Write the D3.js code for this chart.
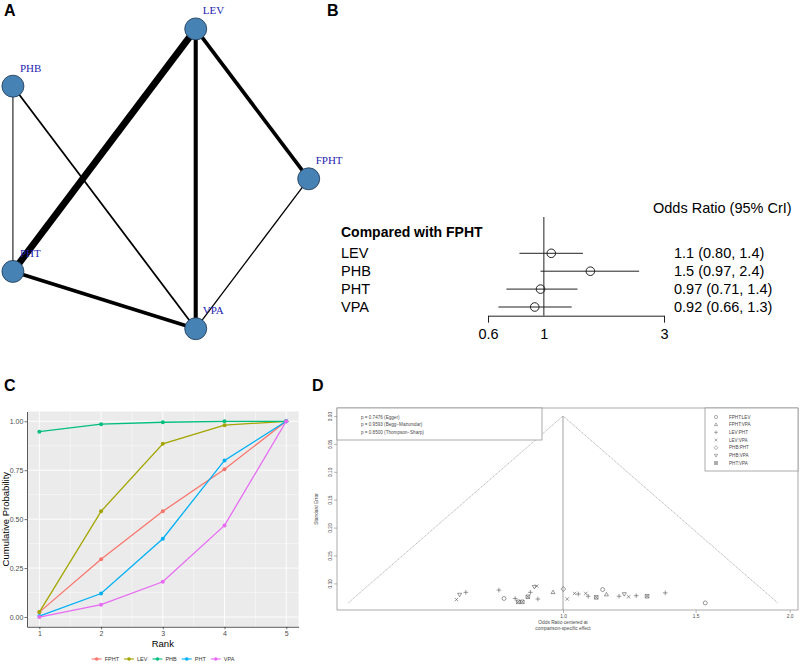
<!DOCTYPE html>
<html><head><meta charset="utf-8">
<script src="https://cdn.jsdelivr.net/npm/d3@7"></script>
<style>body{margin:0;background:#fff;} svg{display:block;}</style>
</head><body>
<svg id="chart" width="800" height="665"></svg>
<script>
// ===== DATA =====
// Panel A: network
const netNodes = ["FPHT", "LEV", "PHB", "PHT", "VPA"];
const edgeFrom = ["LEV", "LEV", "LEV", "PHT", "PHB", "FPHT", "PHB"];
const edgeTo   = ["PHT", "VPA", "FPHT", "VPA", "VPA", "VPA", "PHT"];
const edgeWeight = [7, 4.2, 3.8, 3.8, 1.8, 1.3, 1];

// Panel B: forest plot
const forestTitle = "Compared with FPHT";
const forestHeader = "Odds Ratio (95% CrI)";
const forestTreat = ["LEV", "PHB", "PHT", "VPA"];
const forestEst = [1.07, 1.53, 0.97, 0.92];
const forestLo  = [0.80, 0.97, 0.71, 0.66];
const forestHi  = [1.43, 2.39, 1.36, 1.29];
const forestText = ["1.1 (0.80, 1.4)", "1.5 (0.97, 2.4)", "0.97 (0.71, 1.4)", "0.92 (0.66, 1.3)"];
const forestTicks = [0.6, 1, 3];

// Panel C: cumulative ranking
const ranks = [1, 2, 3, 4, 5];
const rankTreat = ["FPHT", "LEV", "PHB", "PHT", "VPA"];
const cumFPHT = [0.025, 0.295, 0.54, 0.755, 1.0];
const cumLEV  = [0.025, 0.54, 0.885, 0.98, 1.0];
const cumPHB  = [0.947, 0.985, 0.995, 1.0, 1.0];
const cumPHT  = [0.005, 0.12, 0.40, 0.80, 1.0];
const cumVPA  = [0.0, 0.063, 0.18, 0.468, 1.0];
const rankColors = ["#F8766D", "#A3A500", "#00BF7D", "#00B0F6", "#E76BF3"];
const cumTicks = [0, 0.25, 0.5, 0.75, 1];

// Panel D: comparison-adjusted funnel plot
const funnelPairs = ["FPHT:LEV", "FPHT:VPA", "LEV:PHT", "LEV:VPA", "PHB:PHT", "PHB:VPA", "PHT:VPA"];
const funnelOR = [0.722, 0.729, 0.743, 0.822, 0.835, 0.864, 0.872, 0.883, 0.898, 0.905,
                  0.916, 0.923, 0.926, 0.970, 1.001, 1.013, 1.036, 1.048, 1.072, 1.080,
                  1.107, 1.129, 1.142, 1.187, 1.206, 1.222, 1.251, 1.293, 1.367, 1.545];
const funnelSE = [0.329, 0.320, 0.316, 0.312, 0.327, 0.327, 0.333, 0.333, 0.324, 0.316,
                  0.306, 0.305, 0.328, 0.316, 0.310, 0.328, 0.318, 0.319, 0.318, 0.323,
                  0.325, 0.311, 0.320, 0.323, 0.319, 0.324, 0.322, 0.323, 0.317, 0.335];
const funnelPair = [3, 5, 2, 2, 0, 2, 6, 6, 6, 2,
                    5, 3, 2, 1, 4, 3, 3, 2, 3, 2,
                    6, 0, 1, 2, 5, 3, 2, 6, 2, 0];
const pvalText = ["p = 0.7476 (Egger)", "p = 0.9593 (Begg\u2212Mazumdar)", "p = 0.8500 (Thompson\u2212Sharp)"];
const funnelXTicks = [1.0, 1.5, 2.0];
const funnelYTicks = [0, 0.05, 0.10, 0.15, 0.20, 0.25, 0.30];

// ===== DRAW =====
const svg = d3.select("#chart");
const SANS = "'Liberation Sans', Arial, Helvetica, sans-serif";
const SERIF = "'Liberation Serif', 'Times New Roman', serif";

// panel letters
[["A", 4, 16], ["B", 327, 16], ["C", 4, 391], ["D", 312, 391]].forEach(d => {
  svg.append("text").attr("x", d[1]).attr("y", d[2]).text(d[0])
    .attr("font-family", SANS).attr("font-weight", "bold").attr("font-size", 16).attr("fill", "#000");
});

// ---------- Panel A ----------
(function () {
  const g = svg.append("g");
  const ex = d3.scaleLinear().domain([-1, 1]).range([145.2 - 163.5, 145.2 + 163.5]);
  const ey = d3.scaleLinear().domain([-1, 1]).range([178.8 + 157.6, 178.8 - 157.6]);
  const ang = d3.scaleLinear().domain([0, netNodes.length]).range([0, 2 * Math.PI]);
  const pos = {};
  netNodes.forEach((n, i) => { pos[n] = [ex(Math.cos(ang(i))), ey(Math.sin(ang(i)))]; });
  const wScale = d3.scaleLinear().domain([1, 7]).range([1, 6.8]);
  edgeFrom.forEach((f, i) => {
    g.append("line")
      .attr("x1", pos[f][0]).attr("y1", pos[f][1])
      .attr("x2", pos[edgeTo[i]][0]).attr("y2", pos[edgeTo[i]][1])
      .attr("stroke", "#000").attr("stroke-width", wScale(edgeWeight[i]));
  });
  netNodes.forEach(n => {
    g.append("circle").attr("cx", pos[n][0]).attr("cy", pos[n][1]).attr("r", 11)
      .attr("fill", "#4682B4").attr("stroke", "#1d3550").attr("stroke-width", 0.8);
    g.append("text").attr("x", pos[n][0] + 7).attr("y", pos[n][1] - 14.5).text(n)
      .attr("font-family", SERIF).attr("font-size", 11).attr("fill", "#2424b0");
  });
})();

// ---------- Panel B ----------
(function () {
  const g = svg.append("g").attr("font-family", SANS).attr("fill", "#000");
  const x = d3.scaleLog().domain([0.6, 3]).range([488, 664]);
  const rowY = d3.scaleLinear().domain([0, 1]).range([253.3, 271.2]);
  g.append("text").attr("x", 653).attr("y", 213).text(forestHeader).attr("font-size", 14.5);
  g.append("text").attr("x", 341).attr("y", 237).text(forestTitle)
    .attr("font-size", 14).attr("font-weight", "bold");
  // reference line
  g.append("line").attr("x1", x(1)).attr("x2", x(1)).attr("y1", 217).attr("y2", 315.7)
    .attr("stroke", "#222").attr("stroke-width", 1);
  forestTreat.forEach((t, i) => {
    const cy = rowY(i);
    g.append("text").attr("x", 341).attr("y", cy + 5).text(t).attr("font-size", 14.5);
    g.append("line").attr("x1", x(forestLo[i])).attr("x2", x(forestHi[i]))
      .attr("y1", cy).attr("y2", cy).attr("stroke", "#222").attr("stroke-width", 1);
    g.append("circle").attr("cx", x(forestEst[i])).attr("cy", cy).attr("r", 4.3)
      .attr("fill", "none").attr("stroke", "#222").attr("stroke-width", 1);
    g.append("text").attr("x", 674).attr("y", cy + 5).text(forestText[i]).attr("font-size", 14.5);
  });
  const axis = d3.axisBottom(x).tickValues(forestTicks).tickFormat(d3.format("")).tickSize(7).tickSizeOuter(0);
  const ag = g.append("g").attr("transform", "translate(0,315.7)").call(axis);
  ag.select(".domain").attr("stroke", "#222");
  ag.selectAll(".tick line").attr("stroke", "#222");
  ag.selectAll(".tick").filter(d => d === 1).select("line").remove();
  ag.selectAll(".tick text").attr("font-size", 14.5).attr("font-family", SANS).attr("fill", "#000")
    .attr("y", 23).attr("dy", 0);
})();

// ---------- Panel C ----------
(function () {
  const g = svg.append("g");
  const x = d3.scaleLinear().domain([0.8, 5.2]).range([27, 298.6]);
  const y = d3.scaleLinear().domain([-0.05, 1.05]).range([626.8, 411.5]);
  g.append("rect").attr("x", x(0.8)).attr("y", y(1.05)).attr("width", x(5.2) - x(0.8))
    .attr("height", y(-0.05) - y(1.05)).attr("fill", "#EBEBEB");
  const minorX = [1.5, 2.5, 3.5, 4.5], minorY = [0.125, 0.375, 0.625, 0.875];
  minorX.forEach(v => g.append("line").attr("x1", x(v)).attr("x2", x(v)).attr("y1", y(1.05)).attr("y2", y(-0.05)).attr("stroke", "#fff").attr("stroke-width", 0.45));
  minorY.forEach(v => g.append("line").attr("y1", y(v)).attr("y2", y(v)).attr("x1", x(0.8)).attr("x2", x(5.2)).attr("stroke", "#fff").attr("stroke-width", 0.45));
  ranks.forEach(v => g.append("line").attr("x1", x(v)).attr("x2", x(v)).attr("y1", y(1.05)).attr("y2", y(-0.05)).attr("stroke", "#fff").attr("stroke-width", 0.9));
  cumTicks.forEach(v => g.append("line").attr("y1", y(v)).attr("y2", y(v)).attr("x1", x(0.8)).attr("x2", x(5.2)).attr("stroke", "#fff").attr("stroke-width", 0.9));

  const series = [cumFPHT, cumLEV, cumPHB, cumPHT, cumVPA];
  const line = d3.line().x((d, i) => x(ranks[i])).y(d => y(d));
  series.forEach((s, k) => {
    g.append("path").attr("d", line(s)).attr("fill", "none").attr("stroke", rankColors[k]).attr("stroke-width", 1.3);
    s.forEach((v, i) => g.append("circle").attr("cx", x(ranks[i])).attr("cy", y(v)).attr("r", 2).attr("fill", rankColors[k]));
  });
  // axes
  const ax = g.append("g").attr("transform", `translate(0,${y(-0.05)})`)
    .call(d3.axisBottom(x).tickValues(ranks).tickFormat(d3.format("d")).tickSize(2.5).tickSizeOuter(0));
  const ay = g.append("g").attr("transform", `translate(${x(0.8)},0)`)
    .call(d3.axisLeft(y).tickValues(cumTicks).tickFormat(d3.format(".2f")).tickSize(2.5).tickSizeOuter(0));
  [ax, ay].forEach(a => {
    a.select(".domain").attr("stroke", "#333").attr("stroke-width", 0.8);
    a.selectAll(".tick line").attr("stroke", "#333").attr("stroke-width", 0.7);
    a.selectAll(".tick text").attr("font-family", SANS).attr("font-size", 7).attr("fill", "#4D4D4D");
  });
  ax.selectAll(".tick text").attr("y", 4);
  ay.selectAll(".tick text").attr("x", -3.7);
  g.append("text").attr("x", (x(0.8) + x(5.2)) / 2).attr("y", 646.5).attr("text-anchor", "middle")
    .attr("font-family", SANS).attr("font-size", 9.5).text("Rank");
  g.append("text").attr("transform", `translate(8.5,${(y(-0.05) + y(1.05)) / 2}) rotate(-90)`)
    .attr("text-anchor", "middle").attr("font-family", SANS).attr("font-size", 9.5).text("Cumulative Probability");
  // legend
  const lg = g.append("g");
  let cx = 0;
  rankTreat.forEach((t, k) => {
    const it = lg.append("g").attr("transform", `translate(${cx},0)`);
    it.append("line").attr("x1", 0).attr("x2", 10).attr("y1", 0).attr("y2", 0).attr("stroke", rankColors[k]).attr("stroke-width", 1.1);
    it.append("circle").attr("cx", 5).attr("cy", 0).attr("r", 1.8).attr("fill", rankColors[k]);
    const tx = it.append("text").attr("x", 13).attr("y", 2).attr("font-family", SANS).attr("font-size", 5.5).attr("fill", "#333").text(t);
    cx += 13 + tx.node().getComputedTextLength() + 5;
  });
  lg.attr("transform", `translate(${163 - (cx - 5) / 2},659)`);
})();

// ---------- Panel D ----------
(function () {
  const g = svg.append("g");
  const GRAY = "#666", TXT = "#4a4a4a";
  const x = d3.scaleLog().domain([0.5, 2.0]).range([336.3, 789.7]);
  const y = d3.scaleLinear().domain([0, 0.30]).range([416, 583.4]);
  const L = 337, R = 798, T = 408, B = 610;
  g.append("rect").attr("x", L).attr("y", T).attr("width", R - L).attr("height", B - T)
    .attr("fill", "none").attr("stroke", "#888").attr("stroke-width", 0.7);
  const seMax = d3.max(funnelSE);
  const lim = Math.exp(1.96 * seMax);
  g.append("path").attr("d", d3.line()([[x(1 / lim), y(seMax)], [x(1), y(0)], [x(lim), y(seMax)]]))
    .attr("fill", "none").attr("stroke", GRAY).attr("stroke-width", 0.5).attr("stroke-dasharray", "1.2,0.8");
  g.append("line").attr("x1", x(1)).attr("x2", x(1)).attr("y1", y(0)).attr("y2", B)
    .attr("stroke", GRAY).attr("stroke-width", 0.6);

  // symbols
  const sym = [
    "M2,0A2,2 0 1,1 -2,0A2,2 0 1,1 2,0Z",
    "M0,-2.2L2,1.3L-2,1.3Z",
    "M-2.3,0H2.3M0,-2.3V2.3",
    "M-1.7,-1.7L1.7,1.7M-1.7,1.7L1.7,-1.7",
    "M0,-2.5L2.4,0L0,2.5L-2.4,0Z",
    "M0,2.2L2,-1.3L-2,-1.3Z",
    "M-1.8,-1.8H1.8V1.8H-1.8ZM-1.8,-1.8L1.8,1.8M-1.8,1.8L1.8,-1.8"
  ];
  funnelOR.forEach((v, i) => {
    g.append("path").attr("d", sym[funnelPair[i]])
      .attr("transform", `translate(${x(v)},${y(funnelSE[i])})`)
      .attr("fill", "none").attr("stroke", "#555").attr("stroke-width", 0.6);
  });

  // axes
  const ax = g.append("g").attr("transform", `translate(0,${B})`)
    .call(d3.axisBottom(x).tickValues(funnelXTicks).tickFormat(d3.format(".1f")).tickSize(3).tickSizeOuter(0));
  ax.select(".domain").remove();
  ax.selectAll(".tick line").attr("stroke", "#888").attr("stroke-width", 0.6);
  ax.selectAll(".tick text").attr("font-family", SANS).attr("font-size", 4.8).attr("fill", TXT).attr("y", 5);
  const ay = g.append("g").attr("transform", `translate(${L},0)`)
    .call(d3.axisLeft(y).tickValues(funnelYTicks).tickFormat(d3.format(".2f")).tickSize(3).tickSizeOuter(0));
  ay.select(".domain").remove();
  ay.selectAll(".tick line").attr("stroke", "#888").attr("stroke-width", 0.6);
  ay.selectAll(".tick text").attr("font-family", SANS).attr("font-size", 4.8).attr("fill", TXT)
    .attr("x", 0).attr("dy", 0).attr("text-anchor", "middle").attr("transform", "translate(-5,0) rotate(-90)");
  g.append("text").attr("transform", `translate(318,${(T + B) / 2}) rotate(-90)`).attr("text-anchor", "middle")
    .attr("font-family", SANS).attr("font-size", 4.8).attr("fill", TXT).text("Standard Error");
  g.append("text").attr("x", x(1)).attr("y", 624).attr("text-anchor", "middle")
    .attr("font-family", SANS).attr("font-size", 4.8).attr("fill", TXT).text("Odds Ratio centered at");
  g.append("text").attr("x", x(1)).attr("y", 629.5).attr("text-anchor", "middle")
    .attr("font-family", SANS).attr("font-size", 4.8).attr("fill", TXT).text("comparison-specific effect");

  // p-value box
  g.append("rect").attr("x", L).attr("y", T).attr("width", 205).attr("height", 32)
    .attr("fill", "#fff").attr("stroke", "#888").attr("stroke-width", 0.7);
  pvalText.forEach((t, i) => g.append("text").attr("x", 361).attr("y", 418.5 + i * 7.7)
    .attr("font-family", SANS).attr("font-size", 4.6).attr("fill", TXT).text(t));

  // legend box
  g.append("rect").attr("x", 705).attr("y", T).attr("width", R - 705).attr("height", 63)
    .attr("fill", "#fff").attr("stroke", "#888").attr("stroke-width", 0.7);
  funnelPairs.forEach((p, i) => {
    const yy = 417 + i * 7.67;
    g.append("path").attr("d", sym[i]).attr("transform", `translate(716,${yy}) scale(0.8)`)
      .attr("fill", "none").attr("stroke", "#555").attr("stroke-width", 0.6);
    g.append("text").attr("x", 729).attr("y", yy + 1.7).attr("font-family", SANS).attr("font-size", 4.6)
      .attr("fill", TXT).text(p);
  });
})();
</script>
</body></html>
